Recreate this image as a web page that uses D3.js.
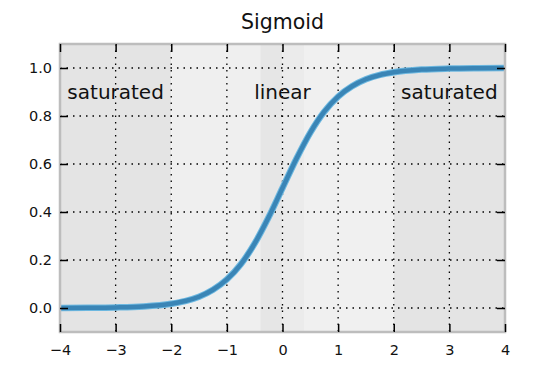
<!DOCTYPE html>
<html>
<head>
<meta charset="utf-8">
<script src="https://cdnjs.cloudflare.com/ajax/libs/d3/7.8.5/d3.min.js"></script>
<style>
  body { margin: 0; background: #fff; }
  svg { display: block; font-family: "DejaVu Sans", sans-serif; }
  .axis text { font-size: 14.5px; font-family: "DejaVu Sans", sans-serif; }
</style>
</head>
<body>
<svg id="chart" width="540" height="369"></svg>
<script>
// curve
var xs = [-4, -3.5, -3, -2.5, -2, -1.75, -1.5, -1.25, -1, -0.75, -0.5, -0.25, 0,
          0.25, 0.5, 0.75, 1, 1.25, 1.5, 1.75, 2, 2.5, 3, 3.5, 4];
var ys = [0.0003, 0.0009, 0.0025, 0.0067, 0.018, 0.029, 0.047, 0.076, 0.119, 0.182, 0.269, 0.378, 0.5,
          0.622, 0.731, 0.818, 0.881, 0.924, 0.953, 0.971, 0.982, 0.9933, 0.9975, 0.9991, 0.9997];
var xTicks = [-4, -3, -2, -1, 0, 1, 2, 3, 4];
var yTicks = [0.0, 0.2, 0.4, 0.6, 0.8, 1.0];
// shaded regions [from, to, colour]
var bands = [[-4, -2, "#e4e4e4"], [-2, -0.4, "#efefef"], [-0.4, 0, "#e6e6e6"],
             [0, 0.4, "#ebebeb"], [0.4, 2, "#f0f0f0"], [2, 4, "#e4e4e4"]];
var regionLabels = [["saturated", -3], ["linear", 0], ["saturated", 3]];

var svg = d3.select("#chart");
var pLeft = 60, pRight = 505, pTop = 44, pBottom = 332;

var x = d3.scaleLinear().domain([-4, 4]).range([pLeft, pRight]);
var y = d3.scaleLinear().domain([-0.1, 1.1]).range([pBottom, pTop]);

var plot = svg.append("g");

plot.selectAll("rect.band").data(bands).enter().append("rect")
    .attr("class", "band")
    .attr("x", function(d) { return x(d[0]); })
    .attr("y", pTop)
    .attr("width", function(d) { return x(d[1]) - x(d[0]); })
    .attr("height", pBottom - pTop)
    .attr("fill", function(d) { return d[2]; });

// dotted grid
plot.selectAll("line.gx").data(xTicks).enter().append("line")
    .attr("x1", function(d) { return x(d); }).attr("x2", function(d) { return x(d); })
    .attr("y1", pTop).attr("y2", pBottom)
    .attr("stroke", "#000").attr("stroke-width", 1.3).attr("stroke-dasharray", "1.5,5");
plot.selectAll("line.gy").data(yTicks).enter().append("line")
    .attr("y1", function(d) { return y(d); }).attr("y2", function(d) { return y(d); })
    .attr("x1", pLeft).attr("x2", pRight)
    .attr("stroke", "#000").attr("stroke-width", 1.3).attr("stroke-dasharray", "1.5,5");

plot.selectAll("text.region").data(regionLabels).enter().append("text")
    .attr("x", function(d) { return x(d[1]); })
    .attr("y", y(0.9))
    .attr("dy", "0.35em")
    .attr("text-anchor", "middle")
    .style("font-size", "20px")
    .attr("fill", "#111")
    .text(function(d) { return d[0]; });

var pts = xs.map(function(v, i) { return [v, ys[i]]; });
var line = d3.line()
    .x(function(d) { return x(d[0]); })
    .y(function(d) { return y(d[1]); })
    .curve(d3.curveMonotoneX);

plot.append("path").datum(pts).attr("d", line)
    .attr("fill", "none").attr("stroke", "#6db8e0").attr("stroke-width", 6.5);
plot.append("path").datum(pts).attr("d", line)
    .attr("fill", "none").attr("stroke", "#3a85b6").attr("stroke-width", 4.5);

// frame
plot.append("rect")
    .attr("x", pLeft).attr("y", pTop)
    .attr("width", pRight - pLeft).attr("height", pBottom - pTop)
    .attr("fill", "none").attr("stroke", "#bdbdbd").attr("stroke-width", 2.5);

// axes, ticks inward on all four sides
var tickLen = 8;
svg.append("g").attr("class", "axis").attr("transform", "translate(0," + pBottom + ")")
    .call(d3.axisBottom(x).tickValues(xTicks).tickSizeInner(-tickLen).tickSizeOuter(0).tickPadding(13)
        .tickFormat(function(d) { return d < 0 ? "\u2212" + Math.abs(d) : d; }));
svg.append("g").attr("class", "axis").attr("transform", "translate(0," + pTop + ")")
    .call(d3.axisTop(x).tickValues(xTicks).tickSizeInner(-tickLen).tickSizeOuter(0).tickFormat(""));
svg.append("g").attr("class", "axis").attr("transform", "translate(" + pLeft + ",0)")
    .call(d3.axisLeft(y).tickValues(yTicks).tickSizeInner(-tickLen).tickSizeOuter(0).tickPadding(8)
        .tickFormat(d3.format(".1f")));
svg.append("g").attr("class", "axis").attr("transform", "translate(" + pRight + ",0)")
    .call(d3.axisRight(y).tickValues(yTicks).tickSizeInner(-tickLen).tickSizeOuter(0).tickFormat(""));

svg.selectAll(".axis").attr("font-size", null).attr("font-family", null);
svg.selectAll(".domain").remove();
svg.selectAll(".tick line").attr("stroke", "#000").attr("stroke-width", 1.5);
svg.selectAll(".tick text").attr("fill", "#111");

svg.append("text")
    .attr("x", x(0)).attr("y", 29)
    .attr("text-anchor", "middle")
    .style("font-size", "20.5px")
    .attr("fill", "#111")
    .text("Sigmoid");
</script>
</body>
</html>
